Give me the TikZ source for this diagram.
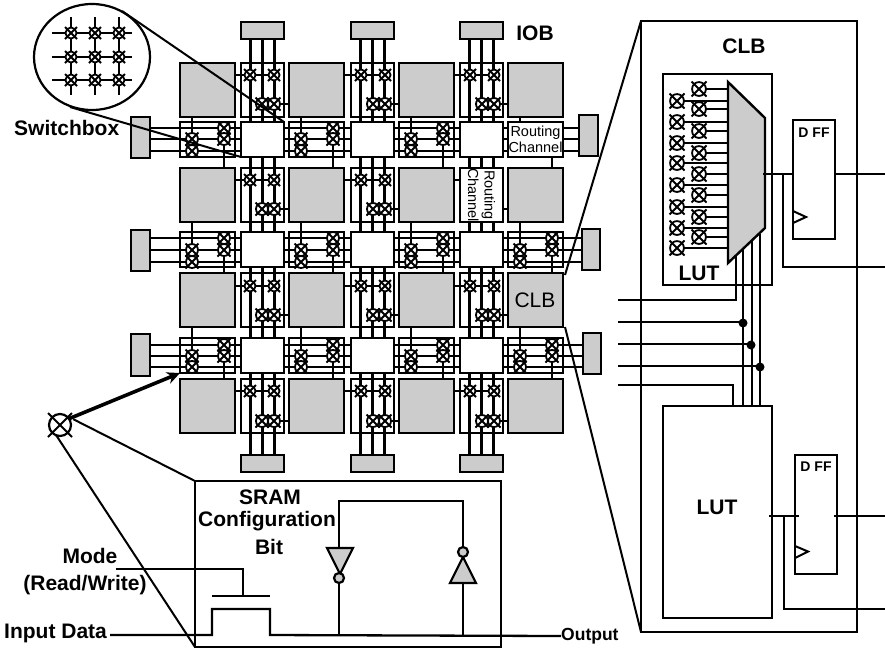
\documentclass[tikz,border=0pt]{standalone}
\usepackage{fontspec}
\setmainfont{Liberation Sans}
\usetikzlibrary{arrows.meta,shapes.geometric}
\tikzset{
  x=1pt,y=-1pt,
  wire/.style={line width=2.3pt,line cap=butt},
  fine/.style={line width=2pt},
  boxbase/.style={rectangle,anchor=north west,inner sep=0pt,outer sep=0pt,line width=2.6pt,draw=black},
  graybox/.style={boxbase,fill=black!20},
  whitebox/.style={boxbase,fill=white},
  openbox/.style={boxbase},
  lbl/.style={inner sep=0pt,font=\bfseries\fontsize{21}{24}\selectfont},
  xring/.style={circle,draw=black,fill=white,inner sep=0pt,outer sep=0pt,line width=1.8pt},
  gate/.style={draw=black,fill=black!20,line width=2.2pt,line join=miter},
  bubble/.style={circle,draw=black,fill=black!20,inner sep=0pt,outer sep=0pt,line width=2.2pt,minimum size=10pt},
  jdot/.style={circle,fill=black,inner sep=0pt,minimum size=9pt},
}
% crosspoint: ring with a cross whose ends stick out
\newcommand{\xpt}[3]{%
  \node[xring,minimum size=#3*1.85pt] at (#1,#2) {};
  \draw[line width=1.8pt] (#1-#3,#2-#3) -- (#1+#3,#2+#3) (#1-#3,#2+#3) -- (#1+#3,#2-#3);
}
\begin{document}
\begin{tikzpicture}
\useasboundingbox (0,0) rectangle (885,649);

% IOB pads
\foreach \n/\xa in {1/241,2/351,3/460}{
  \node[graybox,minimum width=43pt,minimum height=17pt] (iobT\n) at (\xa,22) {};
  \node[graybox,minimum width=43pt,minimum height=17pt] (iobB\n) at (\xa,455) {};
}
\node[graybox,minimum width=19pt,minimum height=41pt] (iobL1) at (131,117) {};
\node[graybox,minimum width=19pt,minimum height=41pt] (iobL2) at (131,230) {};
\node[graybox,minimum width=19pt,minimum height=42pt] (iobL3) at (131,334) {};
\node[graybox,minimum width=19pt,minimum height=41pt] (iobR1) at (579,115) {};
\node[graybox,minimum width=18pt,minimum height=41pt] (iobR2) at (582,229) {};
\node[graybox,minimum width=18pt,minimum height=41pt] (iobR3) at (583,333) {};

% channel wires
\foreach \n in {1,2,3}{
  \draw[wire] (iobT\n.south) -- (iobB\n.north);
  \draw[wire] ([xshift=-12pt]iobT\n.south) -- ([xshift=-12pt]iobB\n.north);
  \draw[wire] ([xshift=12pt]iobT\n.south) -- ([xshift=12pt]iobB\n.north);
}
\foreach \n/\a/\b/\c in {1/128/139/151,2/238/250/262,3/345/356/367}{
  \foreach \w in {\a,\b,\c}{
    \draw[wire] (iobL\n.east |- 0,\w) -- (iobR\n.west |- 0,\w);
  }
}

% stubs in the vertical channels
\foreach \ya/\yb in {75/104,180/209,286/315,391/421}{
  \foreach \gl/\cx/\gr in {235/262/289,344/373/399,453/482/508}{
    \draw[wire] (\gl,\ya) -- (\cx+12,\ya);
    \draw[wire] (\cx,\yb) -- (\gr,\yb);
  }
}
% stubs in the horizontal channels
\foreach \top/\bot/\wa/\wc in {116/168/128/151,222/273/238/262,327/379/345/367}{
  \foreach \xl in {180,289,399,508}{
    \draw[wire] (\xl+12,\top) -- (\xl+12,\wc);
    \draw[wire] (\xl+44,\wa) -- (\xl+44,\bot);
  }
}

% channel frames
\foreach \c/\xa in {1/241,2/351,3/460}{
  \foreach \r/\ya in {1/63,2/168,3/273,4/379}{
    \node[openbox,minimum width=43pt,minimum height=54pt] (vc\c\r) at (\xa,\ya) {};
  }
}
\foreach \c/\xa in {1/180,2/289,3/399,4/508}{
  \foreach \r/\ya in {1/122,2/232,3/338}{
    \node[openbox,minimum width=55pt,minimum height=35pt] (hc\c\r) at (\xa,\ya) {};
  }
}
% logic blocks
\foreach \c/\xa in {1/180,2/289,3/399,4/508}{
  \foreach \r/\ya in {1/63,2/168,3/273,4/379}{
    \node[graybox,minimum width=55pt,minimum height=54pt] (clb\c\r) at (\xa,\ya) {};
  }
}
\node[font=\fontsize{21}{24}\selectfont,inner sep=0pt] (clbtext) at (535,300) {CLB};
% switch boxes
\foreach \c/\xa in {1/241,2/351,3/460}{
  \foreach \r/\ya in {1/122,2/232,3/338}{
    \node[whitebox,minimum width=43pt,minimum height=35pt] (sw\c\r) at (\xa,\ya) {};
  }
}
% routing-channel callout, horizontal
\node[whitebox,minimum width=55pt,minimum height=35pt] (rc1) at (508,122) {};
\node[inner sep=0pt,align=center,font=\fontsize{14.5}{16.5}\selectfont] (rc1t) at (rc1.center) {Routing\\Channel};

% crosspoints, vertical channels
\foreach \ya/\yb in {75/104,180/209,286/315,391/421}{
  \foreach \cx in {262,373,482}{
    \xpt{\cx-12}{\ya}{6}
    \xpt{\cx+12}{\ya}{6}
    \xpt{\cx}{\yb}{6.5}
    \xpt{\cx+12}{\yb}{6.5}
  }
}
% routing-channel callout, vertical
\node[whitebox,minimum width=43pt,minimum height=54pt] (rc2) at (460,168) {};
\node[inner sep=0pt,align=center,rotate=-90,font=\fontsize{14.5}{16.5}\selectfont] (rc2t) at (rc2.center) {Routing\\Channel};

% crosspoints, horizontal channels
\foreach \wa/\wb/\wc in {128/139/151,238/250/262,345/356/367}{
  \foreach \xl in {180,289,399}{
    \xpt{\xl+12}{\wb}{6.5}
    \xpt{\xl+12}{\wc}{6.5}
    \xpt{\xl+44}{\wa}{6.5}
    \xpt{\xl+44}{\wb}{6.5}
  }
}
\foreach \wa/\wb/\wc in {238/250/262,345/356/367}{
  \xpt{520}{\wb}{6.5}
  \xpt{520}{\wc}{6.5}
  \xpt{552}{\wa}{6.5}
  \xpt{552}{\wb}{6.5}
}

% magnified switchbox
\node[draw,line width=2.2pt,ellipse,minimum width=116pt,minimum height=106pt,inner sep=0pt,outer sep=0pt] (zoomc) at (92,57) {};
\foreach \gy in {33,57,80}{ \draw[wire] (52,\gy) -- (132,\gy); }
\foreach \gx in {71,95,119}{ \draw[wire] (\gx,17) -- (\gx,95); }
\foreach \gy in {33,57,80}{
  \foreach \gx in {71,95,119}{ \xpt{\gx}{\gy}{6} }
}
\coordinate (za) at (122,11); \coordinate (zb) at (70,107);
\draw[fine] (za) -- (sw11.north east);
\draw[fine] (zb) -- (sw11.south west);

% labels
\node[lbl,anchor=west] (lswitch) at (14,128) {Switchbox};
\node[lbl] (liob) at (535,33) {IOB};

% SRAM cell
\node[openbox,minimum width=306pt,minimum height=166pt] (sram) at (195,481) {};
\node[lbl,align=center] (lsram) at (270,497) {SRAM};
\node[lbl] (lconf) at (267,521) {Configuration};
\node[lbl] (lbit) at (269,547) {Bit};
\node[lbl] (lmode) at (90,556) {Mode};
\node[lbl] (lrw) at (85,585) {(Read/Write)};
\node[lbl,anchor=west] (lin) at (4,633) {Input Data};
\node[lbl,anchor=west,font=\bfseries\fontsize{17.5}{20}\selectfont] (lout) at (561,636) {Output};
\draw[fine] (116,569) -- (243,569) -- (243,596);
\draw[fine] (212,596) -- (270,596);
\draw[wire,line join=miter] (lin.east) ++(3,2) -- (212,635) -- (212,609) -- (270,609) -- (270,635) -- (lout.west);
% inverters
\coordinate (t1) at (339,635); \coordinate (t2) at (463,635);
\draw[wire,line join=miter] (t1) -- (339,501) -- (463,501) -- (t2);
\draw[gate] (327,548) -- (353,548) -- (340,574) -- cycle;
\node[bubble] (b1) at (339,578) {};
\draw[gate] (450,583) -- (476,583) -- (463,557) -- cycle;
\node[bubble] (b2) at (463,552) {};

% SRAM crosspoint and its leaders
\node[circle,draw,line width=2.2pt,fill=white,minimum size=22pt,inner sep=0pt,outer sep=0pt] (bigx) at (60,425) {};
\draw[line width=2pt] (48,413) -- (72,437) (48,437) -- (72,413);
\draw[line width=3.6pt,-{Stealth[length=13pt,width=12pt]}] (bigx.35) -- (hc13.south west);
\draw[fine] (bigx.20) ++(3,-2) -- (sram.north west);
\draw[fine] (bigx.250) -- (sram.south west);

% CLB detail
\node[openbox,minimum width=216pt,minimum height=611pt] (bigclb) at (641,21) {};
\node[lbl] (lclb) at (744,46) {CLB};
\draw[fine] (clb43.north east) ++(2,2) -- (bigclb.north west);
\draw[fine] (clb43.south east) ++(2,0) -- (bigclb.south west);

\node[openbox,minimum width=109pt,minimum height=211pt] (lut1) at (663,74) {};
\node[lbl] (llut1) at (699,273) {LUT};
\foreach \y in {101,122,143,163,185,207,228,248}{
  \draw[wire] (677,\y) -- (728,\y);
}
\foreach \y in {89,109,131,153,174,195,217,237}{
  \draw[wire] (699,\y) -- (728,\y);
}
\foreach \y in {101,122,143,163,185,207,228,248}{ \xpt{677}{\y}{7.5} }
\foreach \y in {89,109,131,153,174,195,217,237}{ \xpt{699}{\y}{7.5} }
\draw[gate,line width=2.4pt] (728,82) -- (765,118) -- (765,228) -- (728,263) -- cycle;

\node[openbox,minimum width=109pt,minimum height=212pt] (lut2) at (663,406) {};
\node[lbl] (llut2) at (717,507) {LUT};

\node[openbox,minimum width=42pt,minimum height=119pt] (ff1) at (793,120) {};
\node[lbl,font=\bfseries\fontsize{14}{16}\selectfont] (lff1) at (814,133) {D FF};
\draw[fine,line join=miter] (ff1.west |- 0,211) -- (806,217) -- (ff1.west |- 0,223);
\node[openbox,minimum width=42pt,minimum height=119pt] (ff2) at (795,455) {};
\node[lbl,font=\bfseries\fontsize{14}{16}\selectfont] (lff2) at (816,467) {D FF};
\draw[fine,line join=miter] (ff2.west |- 0,546) -- (808,551.5) -- (ff2.west |- 0,558);

\coordinate (e1) at (885,174); \coordinate (e2) at (885,267);
\coordinate (e3) at (885,516); \coordinate (e4) at (885,609);
\draw[wire] (763,174) -- (ff1.west |- 0,174);
\draw[wire] (ff1.east |- 0,174) -- (e1);
\draw[wire,line join=miter] (783,174) -- (783,267) -- (e2);
\draw[wire] (769,516) -- (799,516);
\draw[wire] (834,516) -- (e3);
\draw[wire,line join=miter] (784,516) -- (784,609) -- (e4);

% LUT inputs
\coordinate (ia) at (618,300); \coordinate (ib) at (618,322);
\coordinate (ic) at (618,344); \coordinate (id) at (618,366); \coordinate (ie) at (618,385);
\draw[wire,line join=miter] (ia) -- (736,300) -- (736,256);
\draw[wire] (ib) -- (743,322);
\draw[wire] (ic) -- (751,344);
\draw[wire] (id) -- (760,366);
\draw[wire] (743,250) -- (743,406);
\draw[wire] (752,241) -- (752,406);
\draw[wire] (760,234) -- (760,406);
\draw[wire,line join=miter] (ie) -- (733,385) -- (733,406);
\node[jdot] (j1) at (743,323) {};
\node[jdot] (j2) at (751,345) {};
\node[jdot] (j3) at (760,367) {};
\end{tikzpicture}
\end{document}
